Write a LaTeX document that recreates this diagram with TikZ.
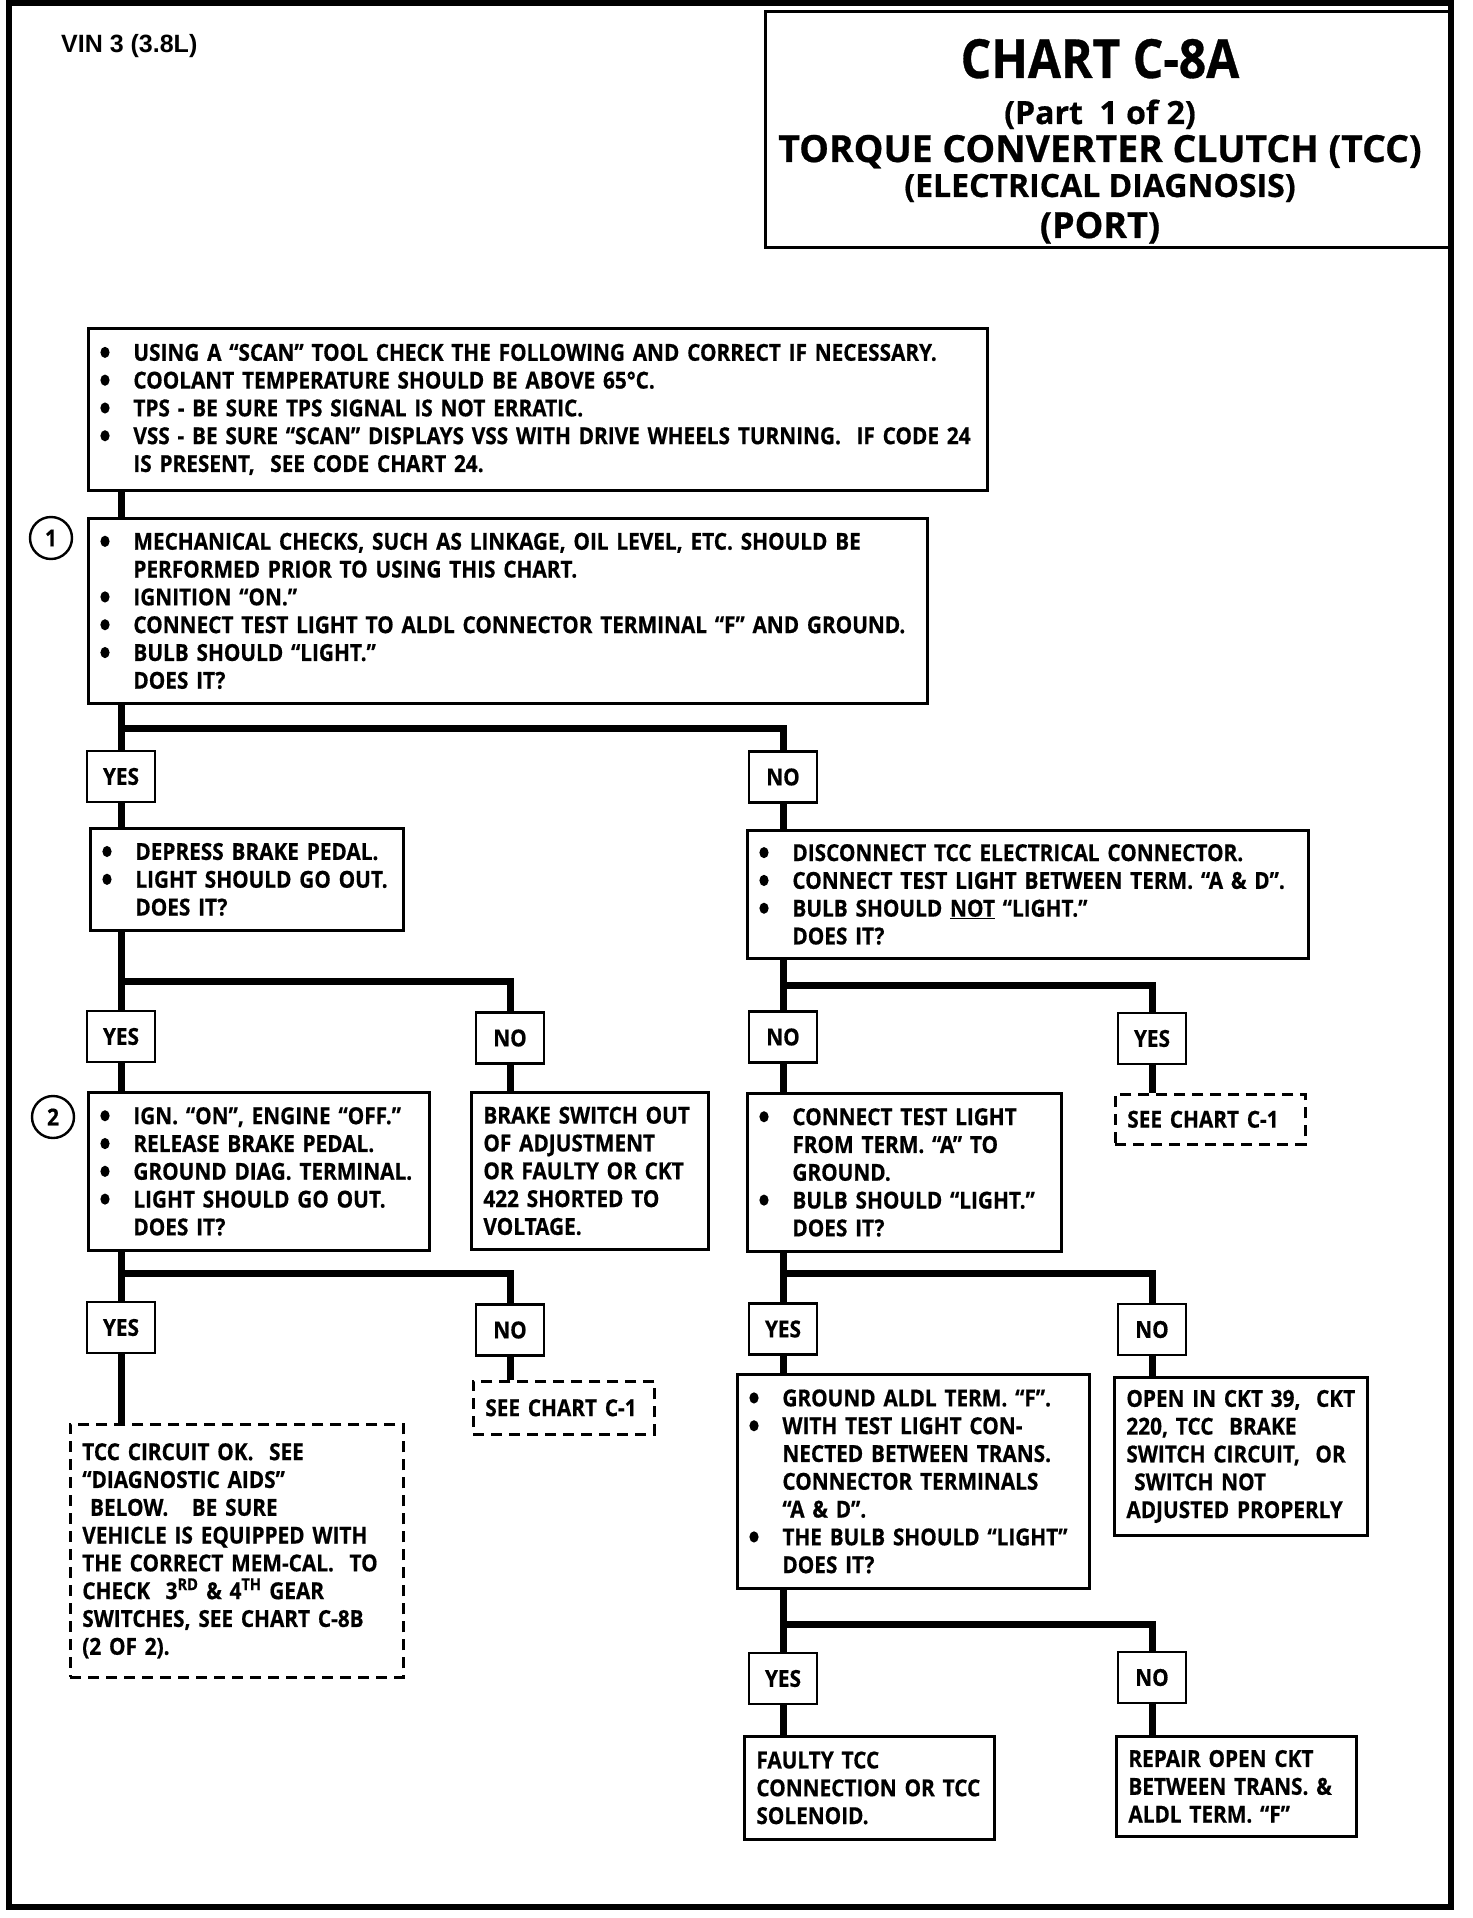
\documentclass[tikz,border=0pt]{standalone}
\usepackage{fontspec}
\setmainfont{Open Sans}[FakeStretch=0.888, BoldFeatures={FakeBold=0.6}]
\newfontfamily\titlefont{Open Sans}[FakeStretch=1.0, BoldFeatures={FakeBold=0.6}]
\newfontfamily\vinfont{Liberation Sans}
\usetikzlibrary{calc}
\newcommand\bulsym{\tikz[baseline=0pt,x=1pt,y=1pt]\fill (4.6,8.4) ellipse [x radius=4.6pt, y radius=5.6pt];}
\newcommand\mybul[1]{\mbox{\makebox[33pt][l]{\bulsym}#1}}
\newcommand\myind[1]{\mbox{\hspace*{33pt}#1}}
\newcommand\myln[1]{\mbox{#1}}
\tikzset{
  body/.style={font=\fontsize{23.4}{27.8}\selectfont\bfseries},
  pbox/.style={body, draw, line width=2.8pt, rectangle, anchor=north west,
    inner xsep=12pt, inner ysep=0pt, align=left},
  dbox/.style={pbox, dash pattern=on 11pt off 7pt, line width=2.6pt},
  yn/.style={body, draw, line width=2.6pt, minimum width=68pt,
    minimum height=51pt, inner sep=0pt},
  conn/.style={line width=7pt},
  num/.style={draw, circle, line width=2.4pt, minimum size=42pt, inner sep=0pt,
    font=\fontsize{23.4}{28}\selectfont\bfseries},
  frame/.style={line width=5.5pt},
  ttl/.style={anchor=base, inner sep=0pt},
}
\begin{document}
\begin{tikzpicture}[x=1pt,y=-1pt]
\useasboundingbox (0,0) rectangle (1472,1918);
\draw[frame] (9,3) rectangle (1451,1907);
% title
\node[draw, line width=3pt, anchor=north west, minimum width=685pt,
      minimum height=236pt, inner sep=0pt] (tbox) at (764,10) {};
\node[ttl, font=\fontsize{54}{58}\selectfont\bfseries] (t1) at (1100,78) {CHART C-8A};
\node[ttl, font=\titlefont\fontsize{32}{36}\selectfont\bfseries] (t2) at (1100,124) {(Part~ 1 of 2)};
\node[ttl, font=\titlefont\fontsize{37.4}{40}\selectfont\bfseries] (t3) at (1100,162) {TORQUE CONVERTER CLUTCH (TCC)};
\node[ttl, font=\titlefont\fontsize{32}{34}\selectfont\bfseries] (t4) at (1100,197) {(ELECTRICAL DIAGNOSIS)};
\node[ttl, font=\titlefont\fontsize{36}{40}\selectfont\bfseries] (t5) at (1100,238) {(PORT)};
\node[anchor=base west, inner sep=0pt, font=\vinfont\fontsize{25}{28}\selectfont\bfseries] (vin) at (61,53) {VIN 3 (3.8L)};
% boxes
\node[pbox, text width=875pt, minimum height=162pt] (bA) at (87,327) {%
\mybul{USING A “SCAN” TOOL CHECK THE FOLLOWING AND CORRECT IF NECESSARY.}\\
\mybul{COOLANT TEMPERATURE SHOULD BE ABOVE 65°C.}\\
\mybul{TPS - BE SURE TPS SIGNAL IS NOT ERRATIC.}\\
\mybul{VSS - BE SURE “SCAN” DISPLAYS VSS WITH DRIVE WHEELS TURNING.\ \ IF CODE 24}\\
\myind{IS PRESENT,\ \ SEE CODE CHART 24.}};
\node[num] (c1) at (51,538) {1};
\node[pbox, text width=815pt, minimum height=185pt] (b1) at (87,517) {%
\mybul{MECHANICAL CHECKS, SUCH AS LINKAGE, OIL LEVEL, ETC. SHOULD BE}\\
\myind{PERFORMED PRIOR TO USING THIS CHART.}\\
\mybul{IGNITION “ON.”}\\
\mybul{CONNECT TEST LIGHT TO ALDL CONNECTOR TERMINAL “F” AND GROUND.}\\
\mybul{BULB SHOULD “LIGHT.”}\\
\myind{DOES IT?}};
\node[yn] (y1) at (121,776.5) {YES};
\node[yn] (n1) at (783,777) {NO};
\node[pbox, text width=289pt, minimum height=102pt] (b2) at (89,827) {%
\mybul{DEPRESS BRAKE PEDAL.}\\
\mybul{LIGHT SHOULD GO OUT.}\\
\myind{DOES IT?}};
\node[pbox, text width=537pt, minimum height=128pt] (b3) at (746,829) {%
\mybul{DISCONNECT TCC ELECTRICAL CONNECTOR.}\\
\mybul{CONNECT TEST LIGHT BETWEEN TERM. “A \& D”.}\\
\mybul{BULB SHOULD \underline{NOT} “LIGHT.”}\\
\myind{DOES IT?}};
\node[yn] (y2) at (121,1036.5) {YES};
\node[yn] (n2) at (510,1038) {NO};
\node[yn] (n3) at (783,1037) {NO};
\node[yn] (y3) at (1152,1038.5) {YES};
\node[num] (c2) at (53,1117) {2};
\node[pbox, text width=317pt, minimum height=158pt] (b4) at (87,1091) {%
\mybul{IGN. “ON”, ENGINE “OFF.”}\\
\mybul{RELEASE BRAKE PEDAL.}\\
\mybul{GROUND DIAG. TERMINAL.}\\
\mybul{LIGHT SHOULD GO OUT.}\\
\myind{DOES IT?}};
\node[pbox, text width=213pt, minimum height=157pt] (b5) at (470,1091) {%
\myln{BRAKE SWITCH OUT}\\
\myln{OF ADJUSTMENT}\\
\myln{OR FAULTY OR CKT}\\
\myln{422 SHORTED TO}\\
\myln{VOLTAGE.}};
\node[pbox, text width=290pt, minimum height=158pt] (b6) at (746,1092) {%
\mybul{CONNECT TEST LIGHT}\\
\myind{FROM TERM. “A” TO}\\
\myind{GROUND.}\\
\mybul{BULB SHOULD “LIGHT.”}\\
\myind{DOES IT?}};
\node[dbox, text width=166pt, minimum height=50pt] (d1) at (1114,1093) {%
\myln{SEE CHART C-1}};
\node[yn] (y4) at (121,1327.5) {YES};
\node[yn] (n4) at (510,1330) {NO};
\node[yn] (y5) at (783,1329) {YES};
\node[yn] (n5) at (1152,1329.5) {NO};
\node[dbox, text width=309pt, minimum height=253pt] (d2) at (69,1423) {%
\myln{TCC CIRCUIT OK.\ \ SEE}\\
\myln{“DIAGNOSTIC AIDS”}\\
\myln{\ BELOW.\ \ \ BE SURE}\\
\myln{VEHICLE IS EQUIPPED WITH}\\
\myln{THE CORRECT MEM-CAL.\ \ TO}\\
\myln{CHECK\ \ 3\textsuperscript{RD} \& 4\textsuperscript{TH} GEAR}\\
\myln{SWITCHES, SEE CHART C-8B}\\
\myln{(2 OF 2).}};
\node[dbox, text width=157pt, minimum height=53pt] (d3) at (472,1380) {%
\myln{SEE CHART C-1}};
\node[pbox, text width=328pt, minimum height=214pt] (b7) at (736,1373) {%
\mybul{GROUND ALDL TERM. “F”.}\\
\mybul{WITH TEST LIGHT CON-}\\
\myind{NECTED BETWEEN TRANS.}\\
\myind{CONNECTOR TERMINALS}\\
\myind{“A \& D”.}\\
\mybul{THE BULB SHOULD “LIGHT”}\\
\myind{DOES IT?}};
\node[pbox, text width=229pt, minimum height=158pt] (b8) at (1113,1376) {%
\myln{OPEN IN CKT 39,\ \ CKT}\\
\myln{220, TCC\ \ BRAKE}\\
\myln{SWITCH CIRCUIT,\ \ OR}\\
\myln{\ SWITCH NOT}\\
\myln{ADJUSTED PROPERLY}};
\node[yn] (y6) at (783,1678.5) {YES};
\node[yn] (n6) at (1152,1677.5) {NO};
\node[pbox, text width=226pt, minimum height=103pt] (b9) at (743,1735) {%
\myln{FAULTY TCC}\\
\myln{CONNECTION OR TCC}\\
\myln{SOLENOID.}};
\node[pbox, text width=216pt, minimum height=100pt] (b10) at (1115,1735) {%
\myln{REPAIR OPEN CKT}\\
\myln{BETWEEN TRANS. \&}\\
\myln{ALDL TERM. “F”}};
% junctions
\coordinate (j1) at (121,728);
\coordinate (j2) at (121,981);
\coordinate (j3) at (783,985);
\coordinate (j4) at (121,1273);
\coordinate (j5) at (783,1273);
\coordinate (j6) at (783,1624);
% connectors
\draw[conn] (bA.south -| y1) -- (b1.north -| y1);
\draw[conn] (b1.south -| y1) -- (y1.north);
\draw[conn] (j1) -| (n1.north);
\draw[conn] (y1.south) -- (b2.north -| y1);
\draw[conn] (n1.south) -- (b3.north -| n1);
\draw[conn] (b2.south -| y2) -- (y2.north);
\draw[conn] (j2) -| (n2.north);
\draw[conn] (y2.south) -- (b4.north -| y2);
\draw[conn] (n2.south) -- (b5.north -| n2);
\draw[conn] (b3.south -| n3) -- (n3.north);
\draw[conn] (j3) -| (y3.north);
\draw[conn] (n3.south) -- (b6.north -| n3);
\draw[conn] (y3.south) -- (d1.north -| y3);
\draw[conn] (b4.south -| y4) -- (y4.north);
\draw[conn] (j4) -| (n4.north);
\draw[conn] (y4.south) -- (d2.north -| y4);
\draw[conn] (n4.south) -- (d3.north -| n4);
\draw[conn] (b6.south -| y5) -- (y5.north);
\draw[conn] (j5) -| (n5.north);
\draw[conn] (y5.south) -- (b7.north -| y5);
\draw[conn] (n5.south) -- (b8.north -| n5);
\draw[conn] (b7.south -| y6) -- (y6.north);
\draw[conn] (j6) -| (n6.north);
\draw[conn] (y6.south) -- (b9.north -| y6);
\draw[conn] (n6.south) -- (b10.north -| n6);
\end{tikzpicture}
\end{document}
